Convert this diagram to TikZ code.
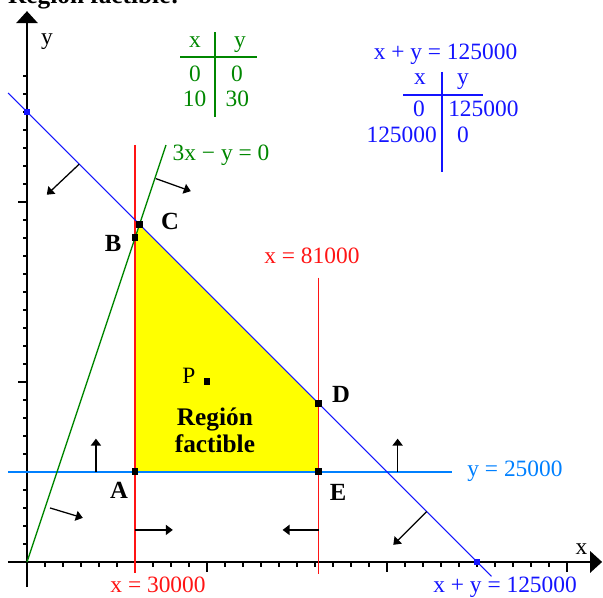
\documentclass[tikz,border=0pt]{standalone}
\usepackage{fontspec}
\setmainfont{Liberation Serif}
\usetikzlibrary{arrows.meta}
\usepackage{xcolor}
\definecolor{linered}{RGB}{255,20,20}
\definecolor{lineblue}{RGB}{20,20,255}
\definecolor{skyblue}{RGB}{0,128,255}
\definecolor{linegreen}{RGB}{0,135,0}
\definecolor{regionyellow}{RGB}{255,255,0}

\begin{document}
\begin{tikzpicture}[
    x=0.5cm, y=0.5cm,
    axis/.style={line width=1.4pt, -{Triangle[length=9.5pt,width=17pt]}},
    tickmark/.style={line width=1.1pt},
    hint/.style={line width=1pt, -{Triangle[length=5.5pt,width=8pt]}},
    vertex/.style={fill=black, inner sep=0pt, minimum size=5.5pt},
    bluedot/.style={fill=lineblue, inner sep=0pt, minimum size=4.5pt},
    lbl/.style={font=\fontsize{18.5}{20}\selectfont, inner sep=0pt, anchor=base},
    vlbl/.style={font=\fontsize{19.5}{21}\selectfont\bfseries, inner sep=0pt},
    tabline/.style={line width=1.4pt}
]
\useasboundingbox (-1.5,-2) rectangle (32,31.22);

% title, cut off by the page edge
\node[font=\fontsize{20}{22}\selectfont\bfseries, anchor=base west, inner sep=0pt] (title) at (-1.06,31.0) {Región factible:};

% corners of the feasible region
\coordinate (A) at (6,5);
\coordinate (B) at (6,18);
\coordinate (C) at (6.25,18.75);
\coordinate (D) at (16.2,8.8);
\coordinate (E) at (16.2,5);
\fill[regionyellow] (A) -- (B) -- (C) -- (D) -- (E) -- cycle;

% axes
\coordinate (xl) at (-1.06,0);
\coordinate (xr) at (31.95,0);
\coordinate (yb) at (0,-1.4);
\coordinate (yt) at (0,30.6);
\foreach \i in {1,...,30}
    \draw[tickmark] (\i,0) -- (\i,-0.3);
\foreach \i in {10,20,30}
    \draw[tickmark] (\i,0) -- (\i,-0.55);
\foreach \j in {1,...,27}
    \draw[tickmark] (0,\j) -- (-0.25,\j);
\foreach \j in {10,20}
    \draw[tickmark] (0,\j) -- (-0.5,\j);
\draw[axis] (xl) -- (xr);
\draw[axis] (yb) -- (yt);
\node[lbl] (ylab) at (1.11,28.72) {y};
\node[lbl] (xlab) at (30.8,0.39) {x};

% constraint lines
\coordinate (g1) at (0,0);
\coordinate (g2) at (7.72,23.16);
\coordinate (b1) at (-1.05,26.05);
\coordinate (b2) at (25.8,-0.8);
\coordinate (r1) at (6,23.17);
\coordinate (r2) at (6,-0.61);
\coordinate (s1) at (16.2,15.8);
\coordinate (s2) at (16.2,-0.65);
\coordinate (h1) at (-1.06,5);
\coordinate (h2) at (23.6,5);
\draw[skyblue, line width=1.5pt] (h1) -- (h2);
\draw[linered, line width=1.4pt] (r1) -- (r2);
\draw[linered, line width=1.4pt] (s1) -- (s2);
\draw[linegreen, line width=1.1pt] (g1) -- (g2);
\draw[lineblue, line width=0.8pt] (b1) -- (b2);
\node[bluedot] (q1) at (0,25) {};
\node[bluedot] (q2) at (25,0) {};

% half-plane arrows
\coordinate (u1) at (2.9,22.1);   \coordinate (u2) at (1.1,20.4);
\coordinate (u3) at (22.2,2.8);   \coordinate (u4) at (20.35,0.95);
\coordinate (v1) at (7.15,21.3);  \coordinate (v2) at (9.1,20.6);
\coordinate (v3) at (1.28,3.0);   \coordinate (v4) at (3.1,2.45);
\coordinate (w1) at (3.83,5);     \coordinate (w2) at (3.83,6.85);
\coordinate (w3) at (20.59,5);    \coordinate (w4) at (20.59,6.85);
\coordinate (z1) at (6,1.78);     \coordinate (z2) at (8.1,1.78);
\coordinate (z3) at (16.2,1.78);  \coordinate (z4) at (14.2,1.78);
\foreach \s/\e in {u1/u2,u3/u4,v1/v2,v3/v4,w1/w2,w3/w4,z1/z2,z3/z4}
    \draw[hint] (\s) -- (\e);

% vertices and labels
\foreach \p in {A,B,C,D,E}
    \node[vertex] (pt\p) at (\p) {};
\node[vertex] (ptP) at (10,10) {};
\node[vlbl] (labA) at (5.11,4.0) {A};
\node[vlbl] (labB) at (4.78,17.67) {B};
\node[vlbl] (labC) at (7.94,18.89) {C};
\node[vlbl] (labD) at (17.44,9.28) {D};
\node[vlbl] (labE) at (17.28,3.89) {E};
\node[lbl, anchor=center] (labP) at (9.0,10.33) {P};
\node[font=\fontsize{20}{21.3}\selectfont\bfseries, align=center, inner sep=0pt] (region) at (10.44,7.3) {Región\\factible};

% line labels
\node[lbl, linered] (lab30) at (7.28,-1.7) {x = 30000};
\node[lbl, linered] (lab81) at (15.83,16.56) {x = 81000};
\node[lbl, skyblue] (lab25) at (27.11,4.72) {y = 25000};
\node[lbl, lineblue] (lab125) at (26.56,-1.7) {x + y = 125000};
\node[lbl, linegreen] (lab3x) at (10.78,22.33) {3x − y = 0};

% table for 3x - y = 0
\coordinate (gv1) at (10.44,29.44);
\coordinate (gv2) at (10.44,24.72);
\coordinate (gh1) at (8.5,28.06);
\coordinate (gh2) at (12.78,28.06);
\draw[linegreen, tabline] (gv1) -- (gv2);
\draw[linegreen, tabline] (gh1) -- (gh2);
\node[lbl, linegreen] (gx) at (9.33,28.56) {x};
\node[lbl, linegreen] (gy) at (11.83,28.56) {y};
\node[lbl, linegreen] (gx0) at (9.33,26.67) {0};
\node[lbl, linegreen] (gy0) at (11.67,26.67) {0};
\node[lbl, linegreen] (gx1) at (9.31,25.28) {10};
\node[lbl, linegreen] (gy1) at (11.69,25.28) {30};

% table for x + y = 125000
\node[lbl, lineblue] (btitle) at (23.25,27.89) {x + y = 125000};
\coordinate (bv1) at (23.06,27.22);
\coordinate (bv2) at (23.06,21.67);
\coordinate (bh1) at (20.89,25.94);
\coordinate (bh2) at (25.33,25.94);
\draw[lineblue, tabline] (bv1) -- (bv2);
\draw[lineblue, tabline] (bh1) -- (bh2);
\node[lbl, lineblue] (bx) at (21.83,26.5) {x};
\node[lbl, lineblue] (by) at (24.22,26.5) {y};
\node[lbl, lineblue] (bx0) at (21.78,24.72) {0};
\node[lbl, lineblue, anchor=base west] (by0) at (23.39,24.72) {125000};
\node[lbl, lineblue, anchor=base east] (bx1) at (22.78,23.28) {125000};
\node[lbl, lineblue] (by1) at (24.22,23.28) {0};
\end{tikzpicture}
\end{document}
